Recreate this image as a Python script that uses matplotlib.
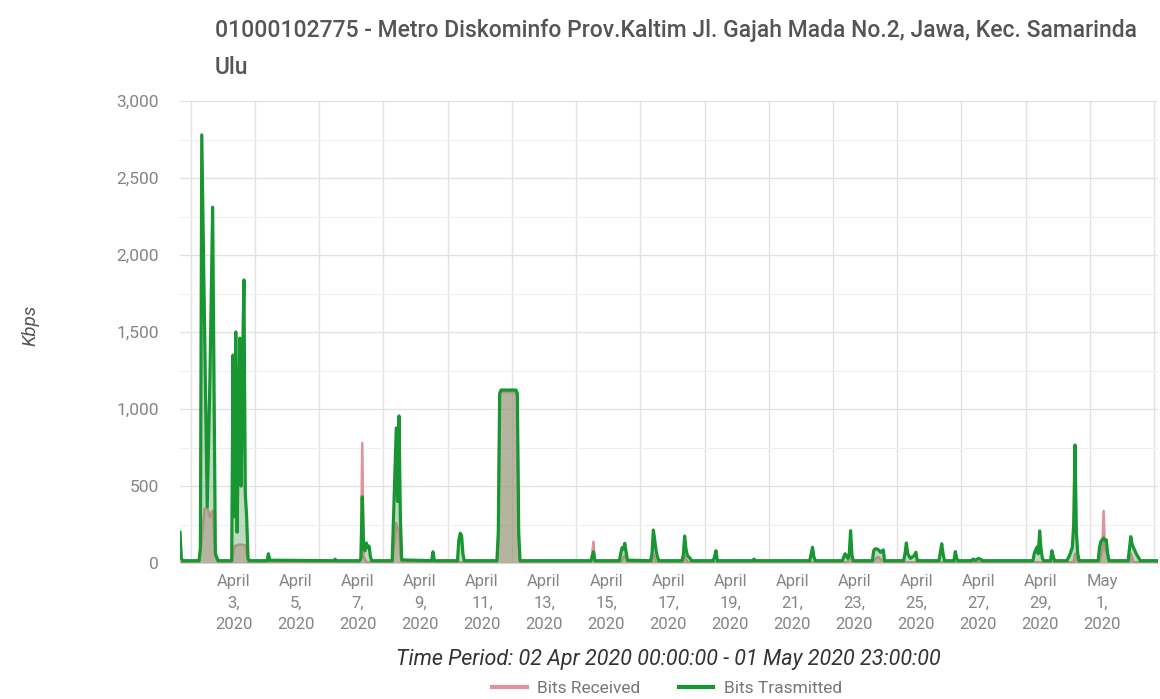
import numpy as np
import matplotlib
matplotlib.use("Agg")
import matplotlib.pyplot as plt
from matplotlib.lines import Line2D

# hours since 02 Apr 2020 00:00, values in Kbps
tx_hours = [0, 1, 2, 14, 15, 16, 20, 22, 24, 26, 28,
            38, 39, 40, 41, 42, 43, 44, 45, 46, 47, 48, 49, 50, 51,
            64, 65, 66, 113, 114, 115,
            132, 133, 134, 135, 136, 137, 138, 139, 140, 141,
            156, 157, 158, 159, 160, 161, 162, 163,
            185, 186, 187,
            204, 205, 206, 207, 208, 209,
            233, 234, 235, 236, 247, 248, 249, 250,
            302, 303, 304, 305,
            323, 324, 325, 326, 327, 328, 329,
            346, 347, 348, 349, 350, 351, 352,
            369, 370, 371, 372, 373, 375, 376,
            392, 393, 394, 395, 421, 422, 423,
            463, 464, 465, 466, 467,
            487, 488, 489, 491, 492, 493, 494, 495,
            509, 510, 511, 513, 515, 517, 518,
            532, 533, 534, 535, 537, 540, 541, 542,
            558, 559, 560, 561, 562, 569, 570, 571, 572,
            582, 583, 585, 587, 589, 590,
            627, 628, 630, 631, 632, 633, 634, 635, 640, 641, 642, 643,
            652, 654, 656, 657, 658, 659, 660, 661,
            675, 676, 677, 678, 679, 680, 681, 682, 683,
            697, 698, 699, 700, 701, 703, 705, 706, 719]
tx_kbps = [200, 30, 15, 15, 100, 2780, 365, 1200, 2310, 60, 15,
           15, 1350, 300, 1500, 200, 900, 1460, 500, 1300, 1838, 450, 300, 30, 15,
           15, 60, 18, 15, 25, 15,
           15, 30, 430, 100, 80, 130, 100, 110, 40, 15,
           15, 300, 600, 877, 400, 955, 300, 20,
           15, 73, 15,
           15, 150, 193, 180, 60, 15,
           15, 200, 1100, 1123, 1123, 1100, 200, 15,
           15, 40, 73, 15,
           15, 60, 100, 90, 128, 70, 18,
           15, 60, 214, 150, 80, 40, 15,
           15, 50, 175, 90, 50, 30, 15,
           15, 40, 80, 15, 15, 25, 15,
           15, 60, 102, 40, 15,
           15, 40, 60, 30, 60, 210, 50, 15,
           15, 80, 92, 90, 70, 85, 15,
           15, 60, 130, 60, 30, 50, 70, 15,
           15, 70, 125, 60, 15, 15, 74, 30, 15,
           15, 25, 18, 30, 22, 15,
           15, 60, 104, 60, 208, 90, 30, 15, 15, 80, 40, 15,
           15, 50, 100, 250, 766, 200, 60, 15,
           15, 100, 140, 150, 162, 145, 150, 60, 15,
           15, 90, 171, 120, 100, 60, 30, 15, 15]

rx_hours = [0, 14, 16, 18, 20, 22, 24, 26, 28,
            38, 40, 44, 48, 50,
            132, 133, 134, 135, 137,
            156, 158, 159, 161, 162, 163,
            233, 234, 235, 236, 247, 248, 249, 250,
            302, 303, 304, 305,
            324, 327, 329, 347, 348, 350, 370, 371, 373,
            491, 492, 494, 509, 513, 518,
            657, 658, 660,
            676, 678, 679, 680, 682, 683,
            698, 699, 701, 719]
rx_kbps = [5, 5, 150, 350, 360, 300, 340, 50, 5,
           5, 110, 120, 115, 5,
           5, 20, 779, 40, 5,
           5, 150, 260, 200, 50, 5,
           5, 150, 1080, 1110, 1110, 1080, 150, 5,
           5, 60, 138, 5,
           5, 50, 5, 5, 60, 5, 5, 50, 5,
           5, 60, 5, 5, 40, 5,
           5, 60, 5,
           5, 80, 338, 90, 60, 5,
           5, 60, 5, 5]

grid_hours = 8 + 47.2 * np.arange(16)
label_hours = 39.7 + 45.6 * np.arange(15)
label_days = ["April\n3,\n2020", "April\n5,\n2020", "April\n7,\n2020", "April\n9,\n2020",
              "April\n11,\n2020", "April\n13,\n2020", "April\n15,\n2020", "April\n17,\n2020",
              "April\n19,\n2020", "April\n21,\n2020", "April\n23,\n2020", "April\n25,\n2020",
              "April\n27,\n2020", "April\n29,\n2020", "May\n1,\n2020"]
y_ticks = [0, 500, 1000, 1500, 2000, 2500, 3000]

green = "#179632"
pink = "#e0939b"

plt.rcParams['font.family'] = ['Roboto', 'DejaVu Sans']

fig = plt.figure(figsize=(11.6, 6.99), dpi=100)
ax = fig.add_axes([180 / 1160, 1 - 563 / 699, 978 / 1160, 462 / 699])

ax.fill_between(rx_hours, rx_kbps, color=pink, alpha=0.55, lw=0, zorder=2)
ax.plot(rx_hours, rx_kbps, color=pink, lw=1.8, zorder=3)
ax.fill_between(tx_hours, tx_kbps, color="#5f9f62", alpha=0.4, lw=0, zorder=4)
ax.plot(tx_hours, tx_kbps, color=green, lw=2.3, zorder=5, solid_joinstyle="round")

ax.set_xlim(0, 719)
ax.set_ylim(0, 3000)

ax.set_xticks(grid_hours)
ax.set_xticklabels([])
ax.set_xticks(label_hours, minor=True)
ax.set_xticklabels(label_days, minor=True, fontsize=12, color="#858585", linespacing=1.55)
ax.tick_params(axis="x", which="both", length=0, pad=8)

ax.set_yticks(y_ticks)
ax.set_yticklabels([f"{v:,}" for v in y_ticks], fontsize=12.5, color="#858585")
ax.set_yticks(np.arange(250, 3000, 500), minor=True)
ax.tick_params(axis="y", which="both", length=0, pad=15)

ax.grid(True, which="major", color="#e2e2e2", lw=1.0, zorder=0)
ax.grid(True, which="minor", axis="y", color="#efefef", lw=0.8, zorder=0)
ax.grid(False, which="minor", axis="x")
for s in ax.spines.values():
    s.set_visible(False)

fig.text(30 / 1160, 1 - 325 / 699, "Kbps", rotation=90, style="italic",
         fontsize=13.5, color="#555555", ha="center", va="center")

fig.text(215 / 1160, 1 - 19 / 699,
         "01000102775 - Metro Diskominfo Prov.Kaltim Jl. Gajah Mada No.2, Jawa, Kec. Samarinda\nUlu",
         fontsize=16.5, color="#555555", ha="left", va="top", linespacing=1.75,
         fontweight="medium")

fig.text(668 / 1160, 1 - 660 / 699,
         "Time Period: 02 Apr 2020 00:00:00 - 01 May 2020 23:00:00",
         fontsize=15.5, style="italic", color="#333333", ha="center", va="center")

handles = [Line2D([], [], color=pink, lw=3), Line2D([], [], color=green, lw=3)]
fig.legend(handles, ["Bits Received", "Bits Trasmitted"], loc="center",
           bbox_to_anchor=(667 / 1160, 1 - 688 / 699), ncol=2, frameon=False,
           fontsize=12.5, labelcolor="#777777", handlelength=2.0, columnspacing=2.2,
           handletextpad=0.6)

fig.savefig("out.png", dpi=100)
